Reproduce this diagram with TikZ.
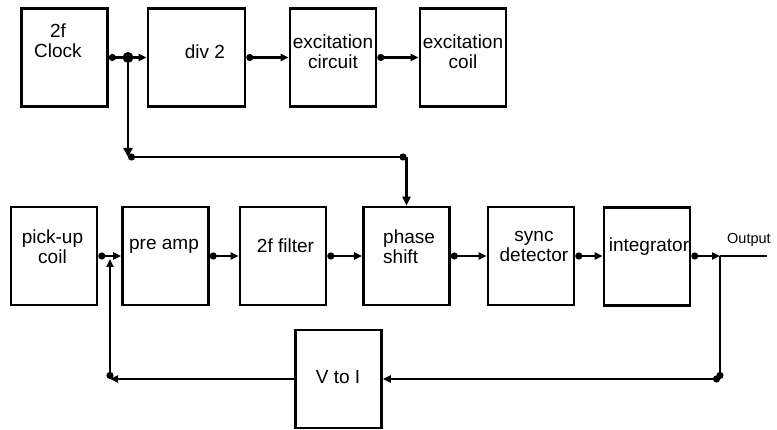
\documentclass[tikz,border=0pt]{standalone}
\usepackage{fontspec}
\setmainfont{Liberation Sans}
\usetikzlibrary{arrows.meta,positioning}

\begin{document}
\begin{tikzpicture}[x=1pt,y=-1pt,
  blockbox/.style={draw,line width=2.6pt,inner sep=0pt,minimum width=86pt,minimum height=98pt},
  blocktext/.style={font=\fontsize{19}{20}\selectfont,align=center,inner sep=0pt},
  line/.style={line width=2.3pt},
  wire/.style={line,{Circle[length=7pt]}-{Triangle[length=8pt,width=7pt]}},
  jdot/.style={circle,fill,inner sep=0pt,minimum size=11pt}]
  \useasboundingbox (0,0) rectangle (777,430);
  % top row
  \node[blockbox] (clock) at (64.5,57.5) {};
  \node[blockbox,minimum width=97pt] (div2) at (196.5,57.5) {};
  \node[blockbox] (exccirc) at (333,57.5) {};
  \node[blockbox] (exccoil) at (463,57.5) {};
  % bottom row
  \node[blockbox] (pickup) at (54,256) {};
  \node[blockbox] (preamp) at (165.5,256) {};
  \node[blockbox] (filter) at (283,256) {};
  \node[blockbox] (phase) at (406.5,256) {};
  \node[blockbox] (sync) at (531,256) {};
  \node[blockbox] (integ) at (647,256.5) {};
  \node[blockbox] (vtoi) at (338.5,379) {};
  % labels
  \node[blocktext] at (58,41) {2f\\Clock};
  \node[blocktext] at (205,52) {div 2};
  \node[blocktext] at (333,52) {excitation\\circuit};
  \node[blocktext] at (463,52) {excitation\\coil};
  \node[blocktext] at (52.5,246.5) {pick-up\\coil};
  \node[blocktext] at (164,246) {pre amp};
  \node[blocktext] at (285.5,246) {2f filter};
  \node[blocktext,align=left,anchor=west] at (383,246.5) {phase\\shift};
  \node[blocktext] at (534,246.5) {sync\\detector};
  \node[blocktext] at (649,247) {integrator};
  \node[blocktext] at (338,377) {V to I};
  \node[blocktext,font=\fontsize{14.5}{16}\selectfont,anchor=west] (outlabel) at (727,240) {Output};
  % clock split
  \node[jdot] (split) at (128,57.5) {};
  \coordinate (bendl) at (split |- 0,157);
  \coordinate (bendr) at (phase.north |- bendl);
  \coordinate (tap) at (720,256);
  \coordinate (outend) at (767,256);
  \coordinate (fbr) at (tap |- vtoi.east);
  \coordinate (fbl) at (110,379);
  \coordinate (fbtop) at (110,259);
  % connectors
  \draw[wire] (clock.east) -- (div2.west);
  \draw[line,-{Triangle[length=9pt,width=9pt]}] (split) -- (bendl);
  \draw[line,{Circle[length=7pt]}-{Circle[length=7pt]}] (bendl) -- (bendr);
  \draw[line,-{Triangle[length=9pt,width=8pt]}] (bendr) -- (phase.north);
  \draw[wire] (div2.east) -- (exccirc.west);
  \draw[wire] (exccirc.east) -- (exccoil.west);
  \draw[wire] (pickup.east) -- (preamp.west);
  \draw[wire] (preamp.east) -- (filter.west);
  \draw[wire] (filter.east) -- (phase.west);
  \draw[wire] (phase.east) -- (sync.west);
  \draw[wire] (sync.east) -- (integ.west |- sync.east);
  \draw[wire] (integ.east |- tap) -- (tap);
  \draw[line] (tap) -- (outend);
  \draw[line,-{Circle[length=7pt]}] (tap) -- (fbr);
  \draw[wire] (fbr) -- (vtoi.east);
  \draw[line,-{Triangle[length=8pt,width=7pt]}] (vtoi.west) -- (fbl);
  \draw[wire] (fbl) -- (fbtop);
\end{tikzpicture}
\end{document}
